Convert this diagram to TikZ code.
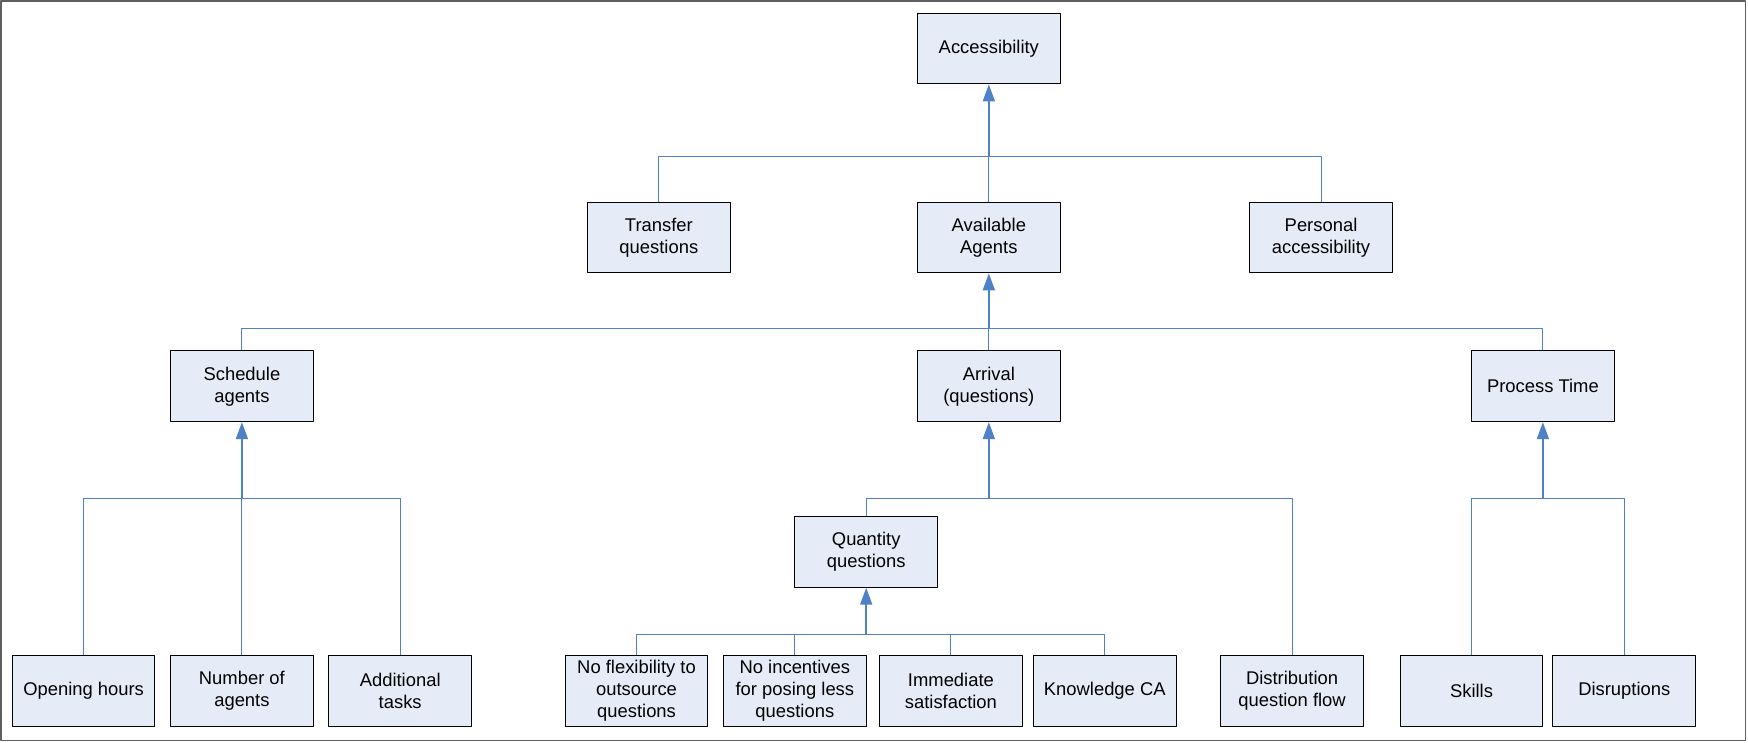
\documentclass[tikz,border=0pt]{standalone}
\usepackage{fontspec}
\setmainfont{Liberation Sans}
\usepackage{xcolor}
\usetikzlibrary{arrows.meta}
\definecolor{boxfill}{RGB}{230,236,247}
\definecolor{linkblue}{RGB}{79,129,199}
\definecolor{framegray}{RGB}{95,95,95}

\begin{document}
\begin{tikzpicture}[x=0.5574pt, y=-0.5574pt, line join = round,
    box/.style={draw=black, fill=boxfill, line width=0.5pt, minimum width=71.3pt,
      minimum height=35.4pt, inner sep=0pt, align=center,
      font=\fontsize{9.2}{11}\selectfont},
    bus/.style={draw=linkblue, line width=0.55pt},
    feed/.style={draw=linkblue, line width=0.9pt, -{Triangle[width=6pt,length=8.5pt]}}]

    \useasboundingbox (0,0) rectangle (1568,666);
    \draw[framegray, line width=0.7pt] (1,1) rectangle (1566,664);

    % top
    \node[box] (access) at (887,43.5) {Accessibility};

    % second level
    \node[box] (transfer) at (591,213) {Transfer\\questions};
    \node[box] (avail) at (887,213) {Available\\Agents};
    \node[box] (personal) at (1185,213) {Personal\\accessibility};

    % third level
    \node[box] (sched) at (217,346.5) {Schedule\\agents};
    \node[box] (arrival) at (887,346.5) {Arrival\\(questions)};
    \node[box] (proctime) at (1384,346.5) {Process Time};

    \node[box] (quantity) at (777,495) {Quantity\\questions};

    % bottom row
    \node[box] (opening) at (75,620) {Opening hours};
    \node[box] (numagents) at (217,620) {Number of\\agents};
    \node[box] (addtasks) at (359,620) {Additional\\tasks};
    \node[box] (noflex) at (571,620) {No flexibility to\\outsource\\questions};
    \node[box] (noincent) at (713,620) {No incentives\\for posing less\\questions};
    \node[box] (immediate) at (853,620) {Immediate\\satisfaction};
    \node[box] (knowledge) at (991,620) {Knowledge CA};
    \node[box] (distrib) at (1159,620) {Distribution\\question flow};
    \node[box] (skills) at (1320,620) {Skills};
    \node[box] (disrupt) at (1457,620) {Disruptions};

    % junctions on the buses
    \coordinate (jaccess) at (887,140);
    \coordinate (javail) at (887,295);
    \coordinate (jsched) at (217,447);
    \coordinate (jarrival) at (887,447);
    \coordinate (jproc) at (1384,447);
    \coordinate (jquant) at (777,569);

    \draw[bus] (transfer.north) |- (jaccess);
    \draw[bus] (personal.north) |- (jaccess);
    \draw[bus] (avail.north) -- (jaccess);
    \draw[feed] (jaccess) -- (access.south);

    \draw[bus] (sched.north) |- (javail);
    \draw[bus] (proctime.north) |- (javail);
    \draw[bus] (arrival.north) -- (javail);
    \draw[feed] (javail) -- (avail.south);

    \draw[bus] (opening.north) |- (jsched);
    \draw[bus] (addtasks.north) |- (jsched);
    \draw[bus] (numagents.north) -- (jsched);
    \draw[feed] (jsched) -- (sched.south);

    \draw[bus] (quantity.north) |- (jarrival);
    \draw[bus] (distrib.north) |- (jarrival);
    \draw[feed] (jarrival) -- (arrival.south);

    \draw[bus] (noflex.north) |- (jquant);
    \draw[bus] (noincent.north) |- (jquant);
    \draw[bus] (immediate.north) |- (jquant);
    \draw[bus] (knowledge.north) |- (jquant);
    \draw[feed] (jquant) -- (quantity.south);

    \draw[bus] (skills.north) |- (jproc);
    \draw[bus] (disrupt.north) |- (jproc);
    \draw[feed] (jproc) -- (proctime.south);

\end{tikzpicture}
\end{document}
